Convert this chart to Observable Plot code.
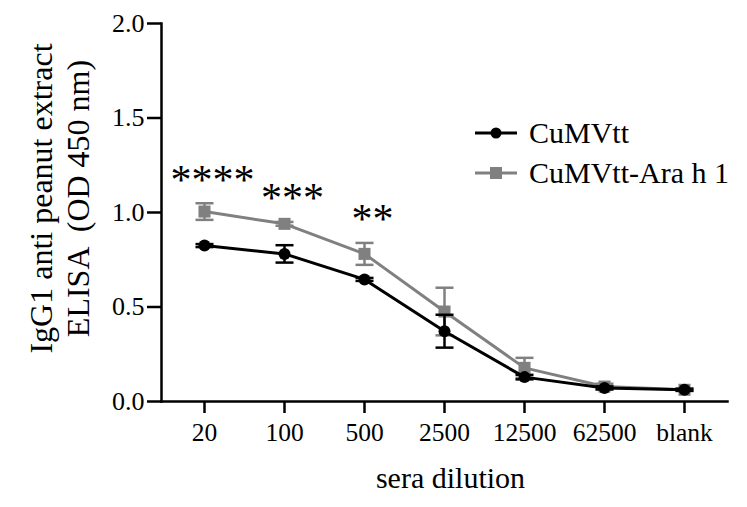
<!DOCTYPE html>
<html>
<head>
<meta charset="utf-8">
<script src="https://cdn.jsdelivr.net/npm/d3@7"></script>
<script src="https://cdn.jsdelivr.net/npm/@observablehq/plot@0.6"></script>
<style>
  html, body { margin: 0; padding: 0; background: #fff; }
  #chart { position: relative; width: 747px; height: 507px; font-family: "Liberation Serif", "Times New Roman", serif; }
  #chart svg, #chart svg text { font-family: "Liberation Serif", "Times New Roman", serif !important; }
  #legend { position: absolute; left: 474px; top: 113px; font-size: 30px; line-height: 40px; color: #000; }
  #legend .row { display: flex; align-items: center; white-space: nowrap; }
  #legend svg { margin-right: 11px; }
</style>
</head>
<body>
<div id="chart"></div>
<script>
// Serum dilutions on the x axis
const dilutions = ["20", "100", "500", "2500", "12500", "62500", "blank"];

// IgG1 ELISA, OD 450 nm: mean and SD per group
const cumvttMean = [0.825, 0.781, 0.646, 0.372, 0.129, 0.072, 0.062];
const cumvttSd   = [0.008, 0.046, 0.008, 0.087, 0.012, 0.008, 0.006];
const araMean    = [1.005, 0.940, 0.781, 0.476, 0.178, 0.079, 0.062];
const araSd      = [0.044, 0.010, 0.058, 0.126, 0.053, 0.015, 0.005];

// Significance between groups
const sigDilutions = ["20", "100", "500"];
const sigLabels = ["****", "***", "**"];

const seriesNames = ["CuMVtt", "CuMVtt-Ara h 1"];
const yTicks = [0, 0.5, 1.0, 1.5, 2.0];

const black = "#000000";
const gray = "#808080";
const serif = "Liberation Serif, Times New Roman, serif";

const rows = (mean, sd, name) => dilutions.map((d, i) => ({
  dilution: d, mean: mean[i], lo: mean[i] - sd[i], hi: mean[i] + sd[i], group: name
}));
const cumvtt = rows(cumvttMean, cumvttSd, seriesNames[0]);
const ara = rows(araMean, araSd, seriesNames[1]);

const sig = sigDilutions.map((d, i) => {
  const k = dilutions.indexOf(d);
  return { dilution: d, top: araMean[k] + araSd[k], label: sigLabels[i] };
});

// horizontal cap for error bars, half-width = r
const cap = {
  draw(context, size) {
    const w = Math.sqrt(size / Math.PI);
    context.moveTo(-w, 0);
    context.lineTo(w, 0);
  }
};

const series = (data, color, symbol, r) => [
  Plot.ruleX(data, { x: "dilution", y1: "lo", y2: "hi", stroke: color, strokeWidth: 2.5 }),
  Plot.dot(data, { x: "dilution", y: "hi", symbol: cap, r: 9, stroke: color, strokeWidth: 2.5, fill: "none" }),
  Plot.dot(data, { x: "dilution", y: "lo", symbol: cap, r: 9, stroke: color, strokeWidth: 2.5, fill: "none" }),
  Plot.line(data, { x: "dilution", y: "mean", stroke: color, strokeWidth: 3 }),
  Plot.dot(data, { x: "dilution", y: "mean", symbol, r, fill: color, stroke: "none" })
];

const chart = Plot.plot({
  width: 747,
  height: 507,
  marginTop: 23,
  marginRight: 20,
  marginBottom: 106,
  marginLeft: 161,
  style: { fontFamily: serif, background: "#fff", color: "#000" },
  x: { type: "point", domain: dilutions, padding: 0.5 },
  y: { domain: [0, 2] },
  marks: [
    Plot.axisY(yTicks, { tickSize: 14, tickPadding: 3, strokeWidth: 2.5, fontSize: 26, fontFamily: serif, tickFormat: d3.format(".1f"), label: null }),
    Plot.axisX({ tickSize: 12, tickPadding: 9, strokeWidth: 2.5, fontSize: 25.5, fontFamily: serif, label: null }),
    Plot.frame({ anchor: "left", strokeWidth: 2.5 }),
    Plot.frame({ anchor: "bottom", strokeWidth: 2.5 }),
    ...series(ara, gray, "square", 6.8),
    ...series(cumvtt, black, "circle", 6),
    Plot.text(sig, { x: "dilution", y: "top", text: "label", dy: -23, dx: 8, fontSize: 42, fontFamily: serif, fill: black }),
    Plot.text(["IgG1 anti peanut extract\nELISA  (OD 450 nm)"], {
      frameAnchor: "left", textAnchor: "middle", lineAnchor: "middle", rotate: -90,
      dx: -103, dy: -14, fontSize: 32, lineHeight: 1.15, fontFamily: serif, fill: black
    }),
    Plot.text(["sera dilution"], { frameAnchor: "bottom", dy: 86, dx: 6, fontSize: 30, fontFamily: serif, fill: black })
  ]
});

const root = document.getElementById("chart");
root.appendChild(chart);

// Legend drawn over the plot area
const legend = document.createElement("div");
legend.id = "legend";
const swatch = (color, shape) => {
  const mark = shape === "circle"
    ? `<circle cx="22" cy="10" r="5.5" fill="${color}"/>`
    : `<rect x="16" y="4" width="12" height="12" fill="${color}"/>`;
  return `<svg width="44" height="20" viewBox="0 0 44 20"><line x1="1" y1="10" x2="43" y2="10" stroke="${color}" stroke-width="3"/>${mark}</svg>`;
};
legend.innerHTML =
  `<div class="row">${swatch(black, "circle")}<span>${seriesNames[0]}</span></div>` +
  `<div class="row">${swatch(gray, "square")}<span>${seriesNames[1]}</span></div>`;
root.appendChild(legend);
</script>
</body>
</html>
